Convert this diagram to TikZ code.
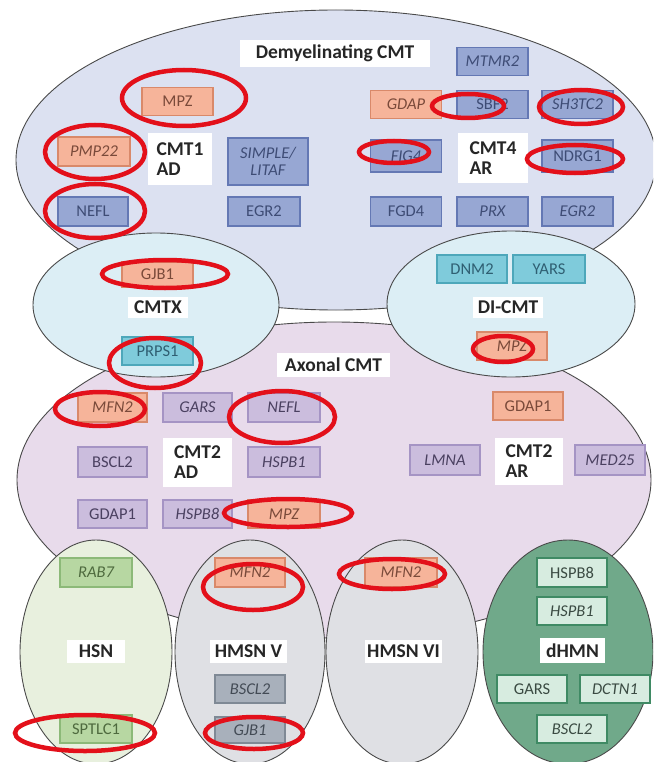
\documentclass[tikz,border=0pt]{standalone}
\usepackage{fontspec}
\setmainfont{Carlito}
\usetikzlibrary{shapes.geometric}
\definecolor{demyF}{HTML}{DCE1F1}
\definecolor{axonF}{HTML}{E8DBEB}
\definecolor{cyanF}{HTML}{DCEEF5}
\definecolor{hsnF}{HTML}{E8F0DE}
\definecolor{hmsnF}{HTML}{DFE0E4}
\definecolor{dhmnF}{HTML}{70A98A}
\definecolor{outl}{HTML}{4A4A4A}
\definecolor{salmF}{HTML}{F6B49A}\definecolor{salmD}{HTML}{D9896A}\definecolor{salmT}{HTML}{7A4A3A}
\definecolor{blueF}{HTML}{97A7D3}\definecolor{blueD}{HTML}{6478B4}\definecolor{blueT}{HTML}{3E4C75}
\definecolor{cyanB}{HTML}{7FCBDB}\definecolor{cyanD}{HTML}{4DA7BA}\definecolor{cyanT}{HTML}{2F5F72}
\definecolor{purpF}{HTML}{CBBDDD}\definecolor{purpD}{HTML}{A594C4}\definecolor{purpT}{HTML}{4A4060}
\definecolor{grnF}{HTML}{B7D7A2}\definecolor{grnD}{HTML}{8CB978}\definecolor{grnT}{HTML}{4E6A3E}
\definecolor{grayF}{HTML}{A8B0BB}\definecolor{grayD}{HTML}{7F8995}\definecolor{grayT}{HTML}{434B55}
\definecolor{mintF}{HTML}{D7ECE0}\definecolor{mintD}{HTML}{3F8A64}\definecolor{mintT}{HTML}{3A4A42}
\definecolor{redE}{HTML}{E3101A}
\newcommand\genefont{\fontsize{16.5}{17}\selectfont}
\newcommand\lblfont{\fontsize{19.5}{20}\selectfont\bfseries}
\begin{document}
\begin{tikzpicture}[x=1pt,y=-1pt,
  gene/.style={draw, line width=1.2pt, minimum width=71pt, minimum height=28pt, inner sep=1pt, font=\genefont},
  it/.style={font=\genefont\itshape},
  salm/.style={fill=salmF, draw=salmD, text=salmT},
  blu/.style={fill=blueF, draw=blueD, text=blueT},
  cya/.style={fill=cyanB, draw=cyanD, text=cyanT},
  pur/.style={fill=purpF, draw=purpD, text=purpT},
  grn/.style={fill=grnF, draw=grnD, text=grnT},
  gry/.style={fill=grayF, draw=grayD, text=grayT},
  mnt/.style={fill=mintF, draw=mintD, text=mintT},
  lbl/.style={fill=white, font=\lblfont, inner sep=1pt, text=black!85, align=left},
  group/.style={draw=outl, line width=0.9pt},
  redmark/.style={draw=redE, line width=4.5pt}
]
\useasboundingbox (0,0) rectangle (653,762);
\clip (0,0) rectangle (653,762);
% group ellipses
\filldraw[group, fill=demyF] (336,160) ellipse [x radius=320, y radius=150];
\filldraw[group, fill=axonF] (334,480) ellipse [x radius=317, y radius=158];
\filldraw[group, fill=cyanF] (156,305) ellipse [x radius=123, y radius=72];
\filldraw[group, fill=cyanF] (511,304) ellipse [x radius=124, y radius=73];
\filldraw[group, fill=hsnF] (96,652) ellipse [x radius=76, y radius=112];
\filldraw[group, fill=hmsnF] (250,652) ellipse [x radius=75, y radius=112];
\filldraw[group, fill=hmsnF] (402,652) ellipse [x radius=76, y radius=112];
\filldraw[group, fill=dhmnF] (568,652) ellipse [x radius=85, y radius=112];
% Demyelinating CMT
\node[lbl, minimum width=190pt, minimum height=27pt, align=center] (lbDemy) at (335,53.5) {Demyelinating CMT};
\node[gene, salm] (mpzA) at (177.5,101.5) {MPZ};
\node[gene, salm, it, minimum width=72pt, minimum height=29pt] (pmp) at (94,151.5) {PMP22};
\node[lbl, minimum width=64pt, minimum height=52pt] (lbCMTa) at (180,159) {CMT1\\AD};
\node[gene, blu, it, minimum width=80pt, minimum height=47pt, align=center] (simple) at (268,161.5) {SIMPLE/\\LITAF};
\node[gene, blu, minimum width=70pt, minimum height=29pt] (neflA) at (93,211.5) {NEFL};
\node[gene, blu, minimum width=72pt, minimum height=29pt] (egrA) at (264,211.5) {EGR2};
\node[gene, blu, it] (mtmr) at (492.5,61.5) {MTMR2};
\node[gene, salm, it] (gdap) at (406,104.5) {GDAP};
\node[gene, blu] (sbf) at (492.5,104.5) {SBF2};
\node[gene, blu, it] (sh3) at (577.5,104.5) {SH3TC2};
\node[gene, blu, it, minimum height=32pt] (fig) at (406,156) {FIG4};
\node[lbl, minimum width=70pt, minimum height=50pt] (lbCMTb) at (493,158) {CMT4\\AR};
\node[gene, blu, minimum height=32pt] (ndrg) at (577.5,156) {NDRG1};
\node[gene, blu, minimum height=29pt] (fgd) at (406,211.5) {FGD4};
\node[gene, blu, it, minimum height=29pt] (prx) at (492.5,211.5) {PRX};
\node[gene, blu, it, minimum height=29pt] (egrB) at (577.5,211.5) {EGR2};
% CMTX
\node[gene, salm, minimum height=25pt] (gjbA) at (157.5,274.5) {GJB1};
\node[lbl, minimum width=60pt, minimum height=21pt] (lbCMTX) at (158,307.5) {CMTX};
\node[gene, cya] (prps) at (157.5,351) {PRPS1};
% DI-CMT
\node[gene, cya, minimum width=70pt] (dnm) at (472,269) {DNM2};
\node[gene, cya, minimum width=72pt] (yars) at (549,269) {YARS};
\node[lbl, minimum width=70pt, minimum height=21pt] (lbDI) at (508,307.5) {DI-CMT};
\node[gene, salm, it, minimum width=70pt] (mpzB) at (512,346) {MPZ};
% Axonal CMT
\node[lbl, minimum width=113pt, minimum height=24pt] (lbAxon) at (333.5,365) {Axonal CMT};
\node[gene, salm, it, minimum width=69pt, minimum height=29pt] (mfnA) at (112.5,407.5) {MFN2};
\node[gene, pur, it, minimum width=69pt, minimum height=29pt] (garsA) at (197.5,407.5) {GARS};
\node[gene, pur, it, minimum width=72pt, minimum height=29pt] (neflB) at (284,407.5) {NEFL};
\node[gene, pur, minimum width=69pt, minimum height=30pt] (bsclA) at (112.5,462) {BSCL2};
\node[lbl, minimum width=69pt, minimum height=49pt] (lbCMTc) at (197.5,462.5) {CMT2\\AD};
\node[gene, pur, it, minimum width=72pt, minimum height=30pt] (hspbA) at (284,462) {HSPB1};
\node[gene, pur, minimum width=69pt] (gdapA) at (112.5,514) {GDAP1};
\node[gene, pur, it, minimum width=69pt] (hspbB) at (197.5,514) {HSPB8};
\node[gene, salm, it, minimum width=72pt] (mpzC) at (284,514) {MPZ};
\node[gene, salm, minimum width=70pt] (gdapB) at (528,406) {GDAP1};
\node[gene, pur, it, minimum width=70pt, minimum height=30pt] (lmna) at (445,460) {LMNA};
\node[lbl, minimum width=68pt, minimum height=47pt] (lbCMTd) at (529,461.5) {CMT2\\AR};
\node[gene, pur, it, minimum width=70pt, minimum height=30pt] (med) at (610,460) {MED25};
% HSN
\node[gene, grn, it, minimum width=72pt, minimum height=29pt] (rab) at (96,572.5) {RAB7};
\node[lbl, minimum width=58pt, minimum height=23pt] (lbHSN) at (96,651.5) {HSN};
\node[gene, grn, minimum width=72pt] (sptlc) at (96,729) {SPTLC1};
% HMSN V
\node[gene, salm, it, minimum width=70pt, minimum height=29pt] (mfnB) at (250,572.5) {MFN2};
\node[lbl, minimum width=77pt, minimum height=23pt] (lbV) at (248.5,651.5) {HMSN V};
\node[gene, gry, it, minimum width=70pt] (bsclB) at (250,689) {BSCL2};
\node[gene, gry, it, minimum width=70pt, minimum height=26pt] (gjbB) at (250,730) {GJB1};
% HMSN VI
\node[gene, salm, it, minimum width=72pt, minimum height=29pt] (mfnC) at (401,572.5) {MFN2};
\node[lbl, minimum width=77pt, minimum height=23pt] (lbVI) at (403.5,651.5) {HMSN VI};
% dHMN
\node[gene, mnt, minimum width=70pt, minimum height=29pt] (hspbC) at (572,572.5) {HSPB8};
\node[gene, mnt, it, minimum width=70pt] (hspbD) at (572,611) {HSPB1};
\node[lbl, minimum width=65pt, minimum height=25pt] (lbdHMN) at (572.5,650.5) {dHMN};
\node[gene, mnt, minimum width=70pt] (garsB) at (532,689) {GARS};
\node[gene, mnt, it, minimum width=70pt] (dctn) at (615,689) {DCTN1};
\node[gene, mnt, it, minimum width=70pt] (bsclC) at (572,729) {BSCL2};
% red highlight ellipses
\draw[redmark] (184,98) ellipse [x radius=62, y radius=28];
\draw[redmark] (95,152) ellipse [x radius=50, y radius=27];
\draw[redmark] (95,211) ellipse [x radius=50, y radius=27];
\draw[redmark] (468,106) ellipse [x radius=36, y radius=12];
\draw[redmark] (581,107) ellipse [x radius=42, y radius=17];
\draw[redmark] (394,152) ellipse [x radius=35, y radius=11];
\draw[redmark] (575,159) ellipse [x radius=48, y radius=14];
\draw[redmark] (165,274) ellipse [x radius=63, y radius=14];
\draw[redmark] (155,363) ellipse [x radius=46, y radius=25];
\draw[redmark] (503,349) ellipse [x radius=30, y radius=13];
\draw[redmark] (100,409) ellipse [x radius=45, y radius=17];
\draw[redmark] (282,417) ellipse [x radius=53, y radius=26];
\draw[redmark] (288,513) ellipse [x radius=64, y radius=14];
\draw[redmark] (85,733) ellipse [x radius=70, y radius=18];
\draw[redmark] (253,587) ellipse [x radius=50, y radius=23];
\draw[redmark] (254,733) ellipse [x radius=49, y radius=16];
\draw[redmark] (392,574) ellipse [x radius=53, y radius=15];
\end{tikzpicture}
\end{document}
